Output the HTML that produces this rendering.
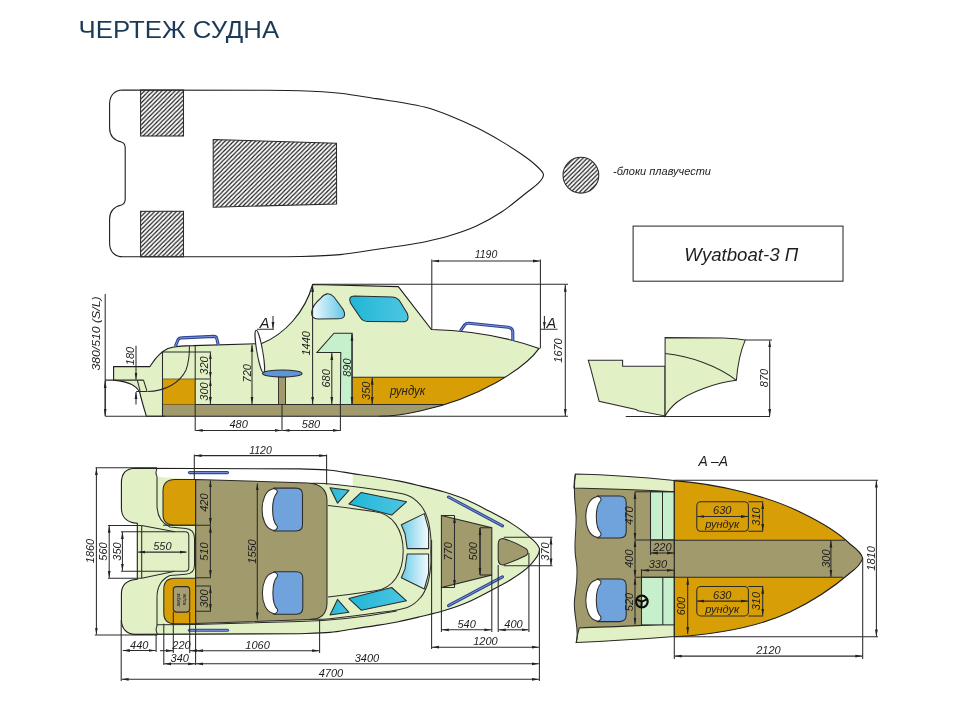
<!DOCTYPE html>
<html><head><meta charset="utf-8"><title>Чертеж судна</title>
<style>
html,body{margin:0;padding:0;background:#fff;}
body{width:968px;height:707px;overflow:hidden;position:relative;font-family:"Liberation Sans",sans-serif;}
svg{position:absolute;left:0;top:0;will-change:transform;}
.l{stroke:#2b2b2b;stroke-width:1.05;}
.n{fill:none;}
.k{stroke:#2a2a2a;stroke-width:0.9;}
.o{stroke:#1e1e1e;stroke-width:1.1;}
.t{font-family:"Liberation Sans",sans-serif;font-style:italic;fill:#1e1e1e;}
</style></head>
<body>
<svg width="968" height="707" viewBox="0 0 968 707">
<defs>
 <pattern id="hat" patternUnits="userSpaceOnUse" width="4.36" height="4.36">
  <path d="M-1.2,1.2 L1.2,-1.2 M0,4.36 L4.36,0 M3.16,5.56 L5.56,3.16" stroke="#141414" stroke-width="1.1"/>
 </pattern>
 <marker id="ae" markerWidth="8" markerHeight="4" refX="7" refY="2" orient="auto" markerUnits="userSpaceOnUse">
  <path d="M0,0.6 L7,2 L0,3.4 Z" fill="#222"/>
 </marker>
 <marker id="as" markerWidth="8" markerHeight="4" refX="1" refY="2" orient="auto" markerUnits="userSpaceOnUse">
  <path d="M8,0.6 L1,2 L8,3.4 Z" fill="#222"/>
 </marker>
 <linearGradient id="w1" x1="0" y1="0" x2="1" y2="0">
  <stop offset="0" stop-color="#f4fcff"/><stop offset="1" stop-color="#62c6e6"/>
 </linearGradient>
 <linearGradient id="w2" x1="0" y1="0" x2="1" y2="0">
  <stop offset="0" stop-color="#22b6d6"/><stop offset="1" stop-color="#4cc6e2"/>
 </linearGradient>
 <linearGradient id="w3" x1="0" y1="0" x2="1" y2="0">
  <stop offset="0" stop-color="#6ccbe6"/><stop offset="1" stop-color="#f2fbff"/>
 </linearGradient>
 <clipPath id="sideClip">
  <path id="sideHullP" d="M113.6,366.6 L149.8,366.6 C153,362 158,353 167.9,348.5 C175,346 185,345.6 193.3,345.6 L261.7,343.6 C285,334 305,312 312.6,284.5 L398.3,286.6 L431.4,329.5 Q490,331 539.1,348.4 C525,368 480,398 420,411 Q397,416.3 379,416.3 L146.4,416.3 Q142,402 139.5,391.5 C136,386 131,382 113.6,380.1 Z"/>
 </clipPath>
 <clipPath id="aaClip">
  <path d="M674.3,480.6 C720,484 770,497 800,512 C825,524 840,534 850,544 Q862,553 862.7,558.4 Q860,566 850,573 C835,586 815,600 790,612 C760,626 720,634 674.3,636.8 Z"/>
 </clipPath>
</defs>

<!-- TITLE -->
<text x="78.6" y="37.6" font-family="Liberation Sans" font-size="23.2" fill="#1b3a57" textLength="200.5" lengthAdjust="spacingAndGlyphs">ЧЕРТЕЖ СУДНА</text>

<!-- ===== TOP PLAN ===== -->
<path class="o" fill="none" d="M123,90 L260,90.2 C266.67,90.28 286.67,90.2 300,90.7 C313.33,91.2 327.33,91.88 340,93.2 C352.67,94.52 366,97.1 376,98.6 C386,100.1 391.75,100.75 400,102.2 C408.25,103.65 417,104.97 425.5,107.3 C434,109.63 442.52,112.82 451,116.2 C459.48,119.58 467.92,123.37 476.4,127.6 C484.88,131.83 494.3,137.12 501.9,141.6 C509.5,146.08 516.4,150.6 522,154.5 C527.6,158.4 531.93,161.7 535.5,165 C539.07,168.3 542.83,171.37 543.4,174.3 C543.97,177.23 541.57,179.65 538.9,182.6 C536.23,185.55 533.57,187.13 527.4,192 C521.23,196.87 510.4,206.13 501.9,211.8 C493.4,217.47 484.88,222.08 476.4,226 C467.92,229.92 459.48,232.68 451,235.3 C442.52,237.92 434,239.92 425.5,241.7 C417,243.48 408.25,244.7 400,246 C391.75,247.3 386,248.07 376,249.5 C366,250.93 352.67,253.43 340,254.6 C327.33,255.77 313.33,256.13 300,256.5 C286.67,256.87 266.67,256.75 260,256.8 L123,256.8 C114,256.8 109.6,251 109.6,243 L109.6,219 C109.6,211 115,206.5 121.5,205 C124.5,204 125.2,202 125.2,199 L125.2,148 C125.2,145 124.5,143 121.5,142 C115,140.5 109.6,136 109.6,128 L109.6,104 C109.6,96 114,90 123,90 Z"/>
<rect x="140.6" y="90" width="42.9" height="46" fill="url(#hat)" class="l"/>
<rect x="140.6" y="211.3" width="42.9" height="45.5" fill="url(#hat)" class="l"/>
<path d="M213.2,139.6 L336.5,143.2 L336.6,203.9 L213.2,207.2 Z" fill="url(#hat)" class="l"/>
<circle cx="580.9" cy="175.2" r="17.9" fill="url(#hat)" class="l"/>
<text class="t" x="613" y="174.6" font-size="11" textLength="98" lengthAdjust="spacingAndGlyphs">-блоки плавучести</text>
<rect x="633.1" y="226.1" width="209.9" height="55.1" class="l n"/>
<text class="t" x="684.3" y="260.5" font-size="18.5" textLength="114" lengthAdjust="spacingAndGlyphs">Wyatboat-3 П</text>

<!-- ===== SIDE VIEW ===== -->
<use href="#sideHullP" fill="#e2f0c6"/>
<g clip-path="url(#sideClip)">
 <rect x="352" y="377.3" width="200" height="27.2" fill="#d89e06"/>
 <rect x="162.5" y="404.5" width="400" height="14" fill="#a19a6c"/>
 <line x1="352" y1="377.3" x2="560" y2="377.3" class="l n"/>
 <line x1="162.5" y1="404.5" x2="560" y2="404.5" class="l n"/>
</g>
<!-- aft locker -->
<rect x="162.5" y="379" width="32.7" height="25.5" fill="#d89e06"/>
<line x1="162.5" y1="379" x2="195.2" y2="379" stroke="#7a6a30" stroke-width="1.2"/>
<use href="#sideHullP" class="o" fill="none"/>
<!-- lines stern -->
<path class="l n" d="M162.5,351.9 L162.5,416.3 M162.5,351.9 L211.2,351.9 M195.2,379 L211.2,379 M195.2,345.7 L195.2,431"/>
<path class="l n" d="M113.6,380.1 L143.5,380.1 M137.3,380.1 L140.1,390.9 M143.5,380.1 L146.9,390.9 M136.2,391.5 L147,391.5"/>
<path class="l n" d="M147.4,391.6 C165,391 180,383 186,370 C189,362 189.5,352 189.4,346"/>
<!-- console -->
<path d="M317,352.4 L334,333.2 L352.1,333.2 L352.1,404.5 L340.4,404.5 L340.8,352.4 Z" fill="#c5f0cb" class="l"/>
<!-- windows -->
<path d="M320.5,298.5 Q327,290 334,297 L343.2,309.5 Q347.5,318.6 338.5,318.8 L318,318.9 Q311,318.9 311.6,312 Q312.5,305 320.5,298.5 Z" fill="url(#w1)" class="l"/>
<path d="M354.5,295.9 L392.5,297 Q397.5,297.4 400,301.5 L407.2,313.2 Q410.2,321.8 402.5,321.8 L367.5,321.4 Q362.5,321.3 360.3,317.5 L350.6,303.2 Q347.6,295.9 354.5,295.9 Z" fill="url(#w2)" class="l"/>
<!-- seat -->
<rect x="278.5" y="375.5" width="7" height="29" fill="#a19a6c" class="k"/>
<ellipse cx="259.8" cy="351.5" rx="2.9" ry="21.5" transform="rotate(-10 259.8 351.5)" fill="#fff" class="l"/>
<ellipse cx="282.3" cy="373.5" rx="19.8" ry="3.6" fill="#5e95d8" class="l"/>
<!-- handrails -->
<path d="M175.4,346.4 L177.8,340.2 Q179,337.9 181.5,337.9 L213.8,336.4 Q216.5,336.5 216.9,339 L218.2,344.9" fill="none" stroke="#2d4592" stroke-width="3.1" stroke-linejoin="round"/>
<path d="M175.4,346.4 L177.8,340.2 Q179,337.9 181.5,337.9 L213.8,336.4 Q216.5,336.5 216.9,339 L218.2,344.9" fill="none" stroke="#7d96dc" stroke-width="1" stroke-linejoin="round"/>
<path d="M460.3,331.1 L464.5,325 Q466,323.2 469,323.3 L508,327.2 Q512.8,328 512.8,332 L512.8,340.6" fill="none" stroke="#2d4592" stroke-width="3.1" stroke-linejoin="round"/>
<path d="M460.3,331.1 L464.5,325 Q466,323.2 469,323.3 L508,327.2 Q512.8,328 512.8,332 L512.8,340.6" fill="none" stroke="#7d96dc" stroke-width="1" stroke-linejoin="round"/>
<!-- dimension lines side -->
<path class="l n" d="M105.2,293.9 L105.2,416.3 M105.2,416.3 L165,416.3 M105.2,380.1 L114,380.1"/>
<line class="l n" x1="105.2" y1="381" x2="105.2" y2="415.5" marker-start="url(#as)" marker-end="url(#ae)"/>
<line class="l n" x1="136" y1="345.7" x2="136" y2="379.6" marker-end="url(#ae)"/>
<line class="l n" x1="136" y1="404.5" x2="136" y2="392" marker-end="url(#ae)"/>
<line class="l n" x1="210.4" y1="352.4" x2="210.4" y2="378.6" marker-start="url(#as)" marker-end="url(#ae)"/>
<line class="l n" x1="210.4" y1="379.4" x2="210.4" y2="404" marker-start="url(#as)" marker-end="url(#ae)"/>
<line class="l n" x1="252" y1="344.8" x2="252" y2="404" marker-start="url(#as)" marker-end="url(#ae)"/>
<line class="l n" x1="312.6" y1="285" x2="312.6" y2="404" marker-start="url(#as)" marker-end="url(#ae)"/>
<line class="l n" x1="331.8" y1="352.9" x2="331.8" y2="404" marker-start="url(#as)" marker-end="url(#ae)"/>
<line class="l n" x1="352" y1="333.7" x2="352" y2="404" marker-start="url(#as)" marker-end="url(#ae)"/>
<line class="l n" x1="372.2" y1="377.8" x2="372.2" y2="404" marker-start="url(#as)" marker-end="url(#ae)"/>
<path class="l n" d="M282,404.5 L282,431 M340.4,404.5 L340.4,431"/>
<line class="l n" x1="195.7" y1="430.4" x2="281.5" y2="430.4" marker-start="url(#as)" marker-end="url(#ae)"/>
<line class="l n" x1="282.5" y1="430.4" x2="339.9" y2="430.4" marker-start="url(#as)" marker-end="url(#ae)"/>
<path class="l n" d="M312.6,284.3 L568,284.3 M431.8,259.4 L431.8,329.5 M540.4,259.4 L540.4,348.4 M379,416.3 L568,416.3"/>
<line class="l n" x1="432.3" y1="261" x2="539.9" y2="261" marker-start="url(#as)" marker-end="url(#ae)"/>
<line class="l n" x1="565.3" y1="284.8" x2="565.3" y2="416" marker-start="url(#as)" marker-end="url(#ae)"/>
<!-- section marks A -->
<path class="l n" d="M257.1,329.3 L274.1,329.3 M540.4,329.3 L557.5,329.3"/>
<line class="l n" x1="273" y1="316" x2="273" y2="328.8" marker-end="url(#ae)"/>
<line class="l n" x1="544.4" y1="316" x2="544.4" y2="328.8" marker-end="url(#ae)"/>
<text class="t" x="259.8" y="328.4" font-size="14.5">A</text>
<text class="t" x="546.6" y="328.4" font-size="14.5">A</text>
<!-- side texts -->
<text class="t" x="486" y="258" text-anchor="middle" font-size="10.5">1190</text>
<text class="t" transform="translate(562.4,350.5) rotate(-90)" text-anchor="middle" font-size="11">1670</text>
<text class="t" transform="translate(100,333.5) rotate(-90)" text-anchor="middle" font-size="11.5" textLength="74" lengthAdjust="spacingAndGlyphs">380/510 (S/L)</text>
<text class="t" transform="translate(133.5,356) rotate(-90)" text-anchor="middle" font-size="11">180</text>
<text class="t" transform="translate(208,365.5) rotate(-90)" text-anchor="middle" font-size="11">320</text>
<text class="t" transform="translate(208,391.5) rotate(-90)" text-anchor="middle" font-size="11">300</text>
<text class="t" transform="translate(250.5,373.3) rotate(-90)" text-anchor="middle" font-size="11">720</text>
<text class="t" transform="translate(309.8,343.3) rotate(-90)" text-anchor="middle" font-size="11">1440</text>
<text class="t" transform="translate(329.5,378.4) rotate(-90)" text-anchor="middle" font-size="11">680</text>
<text class="t" transform="translate(350.5,367.6) rotate(-90)" text-anchor="middle" font-size="11">890</text>
<text class="t" transform="translate(370.3,390.8) rotate(-90)" text-anchor="middle" font-size="11">350</text>
<text class="t" x="389.9" y="395.3" font-size="12" textLength="35.3" lengthAdjust="spacingAndGlyphs">рундук</text>
<text class="t" x="238.6" y="428.2" text-anchor="middle" font-size="11">480</text>
<text class="t" x="311" y="428.2" text-anchor="middle" font-size="11">580</text>

<!-- ===== SECTION (right of side view) ===== -->
<path d="M588.3,360.3 L622.6,360.3 L622.6,366.3 L665,366.3 L665,415.9 L637.9,410.8 L636,409.5 L599.1,401.2 C596,390 592,372 588.3,360.3 Z" fill="#e2f0c6" class="l"/>
<path d="M665.1,337.6 L723.6,337.9 Q738,338.6 745.3,339.9 C741,350 737.5,365 736.4,380.3 C715,383 690,392 676.5,402.5 Q669,409 665.1,415.9 Z" fill="#e2f0c6" class="l"/>
<path class="l n" d="M665.1,353.5 C690,356 718,366 736.4,380.3"/>
<path class="l n" d="M625.8,416.4 L770,416.4 M745.3,339.9 L772,339.9"/>
<line class="l n" x1="769.7" y1="340.4" x2="769.7" y2="415.9" marker-start="url(#as)" marker-end="url(#ae)"/>
<text class="t" transform="translate(768,378) rotate(-90)" text-anchor="middle" font-size="11">870</text>


<!-- BOTTOM PLAN -->
<defs><path id="hull2" d="M135.4,468.2 L300,468.9 C305,469.12 321.22,469.42 330,470.2 C338.78,470.98 345.12,472.47 352.7,473.6 C360.28,474.73 367.92,475.78 375.5,477 C383.08,478.22 390.63,479.38 398.2,480.9 C405.77,482.42 413.33,484.28 420.9,486.1 C428.47,487.92 436.02,489.52 443.6,491.8 C451.18,494.08 458.82,496.58 466.4,499.8 C473.98,503.02 481.53,507.13 489.1,511.1 C496.67,515.07 504.98,519.23 511.8,523.6 C518.62,527.97 525.38,532.93 530,537.3 C534.62,541.67 539.5,545.13 539.5,549.8 C539.5,554.47 534.62,560.43 530,565.3 C525.38,570.17 518.62,574.63 511.8,579 C504.98,583.37 496.67,587.53 489.1,591.5 C481.53,595.47 473.98,599.58 466.4,602.8 C458.82,606.02 451.18,608.52 443.6,610.8 C436.02,613.08 428.47,614.68 420.9,616.5 C413.33,618.32 405.77,620.18 398.2,621.7 C390.63,623.22 383.08,624.38 375.5,625.6 C367.92,626.82 360.28,627.87 352.7,629 C345.12,630.13 338.78,631.62 330,632.4 C321.22,633.18 305,633.48 300,633.7 L135.4,634.4 C126,634.4 121.4,628 121.4,619.6 L121.4,594 C121.4,585 127,580 137.3,579.3 L137.3,523.3 C127,522.6 121.4,517 121.4,508.3 L121.4,483 C121.4,474 126,468.2 135.4,468.2 Z"/></defs><use href="#hull2" fill="#e2f0c6"/>
<path d="M157,476.6 Q154.8,472 157,468.3 L300,468.9 C320,469.5 335,471 352.7,473.6 L352.7,486.3 C335,484.2 320,483.5 300,482.8 L195.6,479.2 L162,477.2 Z" fill="#fff"/>
<path d="M195.6,479.4 L175,479.4 Q163,479.4 163,491 L163,514 Q163,525.3 175,525.3 L195.6,525.3 Z" fill="#d89e06" class="l"/>
<path d="M195.6,578.2 L175,578.2 Q163.8,578.2 163.8,589 L163.8,613 Q163.8,623.8 175,623.8 L195.6,623.8 Z" fill="#d89e06" class="l"/>
<path d="M195.6,479.4 L308,483 Q326.5,484 327,500 L327,603.6 Q326.5,619 311,619.5 L195.6,623.5 Z" fill="#a19a6c" class="l"/>
<rect x="173.3" y="586.6" width="16.4" height="25.5" rx="3" fill="#a89e74" class="l"/>
<text class="t" transform="translate(180,599.4) rotate(-90) scale(0.5)" text-anchor="middle" font-size="9.5" font-style="normal">аккум.</text>
<text class="t" transform="translate(186.3,599.4) rotate(-90) scale(0.5)" text-anchor="middle" font-size="9.5" font-style="normal">ящик</text>
<path class="l n" d="M157,476.6 L157,505 C157,515 161,523 170,527 L186,528.5 Q194.5,529.5 194.5,538 L194.5,565 Q194.5,573.5 186,574.2 L170,575.6 C161,579.5 157,587.5 157,597.5 L157,626"/>
<path class="l n" d="M157,476.6 Q155,472.5 157,468.4"/>
<path class="l n" d="M141.7,525.4 L141.7,578.2 M141.7,525.4 L174.8,531.7 M141.7,578.2 L174.8,571.2"/>
<path class="l n" d="M141.7,531.7 L185,531.7 Q188.8,531.7 188.8,535.5 L188.8,567.4 Q188.8,571.2 185,571.2 L141.7,571.2"/>
<path class="l n" d="M157,626 Q155,630 157.5,634.3 M157,624.8 L195.6,624.4 L300,621.6 C330,620.6 360,618 396.8,611"/>
<path class="l n" d="M310,483.4 C313.33,483.48 319.08,482.88 330,483.9 C340.92,484.92 362.62,487.62 375.5,489.5 C388.38,491.38 399.73,492.53 407.3,495.2 C414.87,497.87 417.5,501.52 420.9,505.5 C424.3,509.48 426.05,513.8 427.7,519.1 C429.35,524.4 430.28,531.93 430.8,537.3 C431.32,542.67 430.8,548.97 430.8,551.3 C430.8,553.63 431.32,559.93 430.8,565.3 C430.28,570.67 429.35,578.2 427.7,583.5 C426.05,588.8 424.3,593.12 420.9,597.1 C417.5,601.08 414.87,604.73 407.3,607.4 C399.73,610.07 388.38,611.22 375.5,613.1 C362.62,614.98 340.92,617.68 330,618.7 C319.08,619.72 313.33,619.12 310,619.2"/>
<path class="l n" d="M328,505.6 C345,507.5 360,509.5 375.2,511.8 C393,514 403.2,530 403.2,551.3 C403.2,572.6 393,588.6 375.2,590.8 C360,593.1 345,595.1 328,597"/>
<path d="M330,487.7 L348.9,490.3 L337.5,503.2 Z" fill="url(#w2)" class="l" stroke-linejoin="round"/>
<path d="M330,614.9 L348.9,612.3 L337.5,599.4 Z" fill="url(#w2)" class="l" stroke-linejoin="round"/>
<path d="M361.2,492.4 L406.5,501.8 L391.7,515.1 L348.9,504 Z" fill="url(#w2)" class="l" stroke-linejoin="round"/>
<path d="M361.2,610.2 L406.5,600.8 L391.7,587.5 L348.9,598.6 Z" fill="url(#w2)" class="l" stroke-linejoin="round"/>
<path d="M401.3,524.8 L424.3,513.6 L428.6,529.2 L428.6,548.6 L407.2,548.6 L405,533.7 Z" fill="url(#w3)" class="l" stroke-linejoin="round"/>
<path d="M401.3,577.8 L424.3,589 L428.6,573.4 L428.6,554 L407.2,554 L405,568.9 Z" fill="url(#w3)" class="l" stroke-linejoin="round"/>
<path d="M273.7,488.1 L296,488.1 Q302.5,488.1 302.5,494.6 L302.5,524.4 Q302.5,530.9 296,530.9 L273.7,530.9 C269.7,520.9 269.7,498.1 273.7,488.1 Z" fill="#70a3dc" class="l"/><path d="M272.2,489.1 C258.7,492.6 258.7,526.4 272.2,529.9 C274.7,531.4 278.2,528.9 277.1,526 C271.1,519.9 271.1,499.1 277.1,492.7 C278.2,490.1 274.7,487.6 272.2,489.1 Z" fill="#fff" class="l"/>
<path d="M274,571.8 L296.3,571.8 Q302.8,571.8 302.8,578.3 L302.8,607.7 Q302.8,614.2 296.3,614.2 L274,614.2 C270,604.2 270,581.8 274,571.8 Z" fill="#70a3dc" class="l"/><path d="M272.5,572.8 C259,576.3 259,609.7 272.5,613.2 C275,614.7 278.5,612.2 277.4,609.3 C271.4,603.2 271.4,582.8 277.4,576.4 C278.5,573.8 275,571.3 272.5,572.8 Z" fill="#fff" class="l"/>
<path d="M441.4,515.5 L491.8,527.7 L491.8,575 L441.4,587.5 Z" fill="#a19a6c" class="l"/>
<path class="l n" d="M454.5,515.5 L454.5,587.5 M480,527.7 L480,575 M441.4,515.5 L454.5,515.5 M441.4,587.5 L454.5,587.5 M480,527.7 L491.8,527.7 M480,575 L491.8,575"/>
<line class="l" x1="454.5" y1="515.9" x2="454.5" y2="587.1" marker-start="url(#as)" marker-end="url(#ae)"/>
<line class="l" x1="480" y1="528.1" x2="480" y2="574.6" marker-start="url(#as)" marker-end="url(#ae)"/>
<text class="t" transform="translate(451.5,551.3) rotate(-90)" text-anchor="middle" font-size="11">770</text>
<text class="t" transform="translate(477,551.3) rotate(-90)" text-anchor="middle" font-size="11">500</text>
<path d="M503,538.4 Q498.2,538.4 498.2,544 L498.2,559 Q498.2,565 503,565 Q515,561 526,555.5 Q530,552.5 526,548.6 Q515,542 503,538.4 Z" fill="#a19a6c" class="l"/>
<line x1="189.5" y1="472.6" x2="227.5" y2="472.6" stroke="#2d4592" stroke-width="3.1" stroke-linecap="round"/><line x1="189.5" y1="472.6" x2="227.5" y2="472.6" stroke="#7d96dc" stroke-width="1" stroke-linecap="round"/>
<line x1="189.5" y1="630.3" x2="227.5" y2="630.3" stroke="#2d4592" stroke-width="3.1" stroke-linecap="round"/><line x1="189.5" y1="630.3" x2="227.5" y2="630.3" stroke="#7d96dc" stroke-width="1" stroke-linecap="round"/>
<line x1="448.5" y1="497" x2="502.5" y2="525.8" stroke="#2d4592" stroke-width="3.1" stroke-linecap="round"/><line x1="448.5" y1="497" x2="502.5" y2="525.8" stroke="#7d96dc" stroke-width="1" stroke-linecap="round"/>
<line x1="448.5" y1="605.6" x2="502.5" y2="576.8" stroke="#2d4592" stroke-width="3.1" stroke-linecap="round"/><line x1="448.5" y1="605.6" x2="502.5" y2="576.8" stroke="#7d96dc" stroke-width="1" stroke-linecap="round"/>
<use href="#hull2" fill="none" class="o"/>
<path class="l n" d="M194.3,454.6 L194.3,479.8 M326.6,454.6 L326.6,484.4 M95.5,467.7 L157,467.7 M94.8,634.9 L157.3,634.9 M108,525.4 L141.7,525.4 M108,578.2 L141.7,578.2 M121,531.7 L141.7,531.7 M121,571.2 L141.7,571.2 M195.6,479.4 L195.6,665 M121.2,620 L121.2,681 M156.1,634.9 L156.1,652 M163.8,623.8 L163.8,665 M173.3,612 L173.3,653 M189.7,612 L189.7,653 M319.6,619.5 L319.6,653 M431.6,540 L431.6,649 M441.4,587.4 L441.4,632 M491.8,575 L491.8,632 M498.2,565 L498.2,632 M528.9,553 L528.9,632 M539.4,550 L539.4,681 M503.8,537.2 L552.5,537.2 M503.8,565.8 L552.5,565.8 M163,525.3 L211,525.3 M195.6,586 L211,586 M195.6,611.3 L211,611.3 M195.6,577.7 L211,577.7"/>
<line class="l" x1="194.7" y1="455.6" x2="326.2" y2="455.6" marker-start="url(#as)" marker-end="url(#ae)"/><text class="t" x="260.45" y="453.5" text-anchor="middle" font-size="10.5">1120</text>
<line class="l" x1="96.4" y1="468.1" x2="96.4" y2="634.5" marker-start="url(#as)" marker-end="url(#ae)"/><text class="t" transform="translate(94,551) rotate(-90)" text-anchor="middle" font-size="11">1860</text>
<line class="l" x1="109.2" y1="525.8" x2="109.2" y2="577.8" marker-start="url(#as)" marker-end="url(#ae)"/><text class="t" transform="translate(107,551.5) rotate(-90)" text-anchor="middle" font-size="11">560</text>
<line class="l" x1="122.4" y1="532.1" x2="122.4" y2="570.8" marker-start="url(#as)" marker-end="url(#ae)"/><text class="t" transform="translate(120.5,551.5) rotate(-90)" text-anchor="middle" font-size="11">350</text>
<line class="l" x1="138.3" y1="552.1" x2="186.5" y2="552.1" marker-start="url(#as)" marker-end="url(#ae)"/><text class="t" x="162.4" y="549.6" text-anchor="middle" font-size="11">550</text>
<line class="l" x1="210.4" y1="480.4" x2="210.4" y2="524.9" marker-start="url(#as)" marker-end="url(#ae)"/><text class="t" transform="translate(208.3,502.6) rotate(-90)" text-anchor="middle" font-size="11">420</text>
<line class="l" x1="210.4" y1="525.7" x2="210.4" y2="577.3" marker-start="url(#as)" marker-end="url(#ae)"/><text class="t" transform="translate(208.3,551.5) rotate(-90)" text-anchor="middle" font-size="11">510</text>
<line class="l" x1="210.4" y1="586.4" x2="210.4" y2="610.9" marker-start="url(#as)" marker-end="url(#ae)"/><text class="t" transform="translate(208.3,598.6) rotate(-90)" text-anchor="middle" font-size="11">300</text>
<line class="l" x1="257.3" y1="483.4" x2="257.3" y2="619.4" marker-start="url(#as)" marker-end="url(#ae)"/><text class="t" transform="translate(256.4,551.5) rotate(-90)" text-anchor="middle" font-size="11">1550</text>
<line class="l" x1="551" y1="537.6" x2="551" y2="565.4" marker-start="url(#as)" marker-end="url(#ae)"/><text class="t" transform="translate(549.2,551.5) rotate(-90)" text-anchor="middle" font-size="11">370</text>
<line class="l" x1="122.8" y1="650.5" x2="155.7" y2="650.5" marker-start="url(#as)" marker-end="url(#ae)"/><text class="t" x="139.25" y="648.5" text-anchor="middle" font-size="11">440</text>
<line class="l" x1="196" y1="650.7" x2="319.2" y2="650.7" marker-start="url(#as)" marker-end="url(#ae)"/><text class="t" x="257.6" y="648.7" text-anchor="middle" font-size="11">1060</text>
<line class="l" x1="160" y1="650.7" x2="173" y2="650.7" marker-end="url(#ae)"/><line class="l" x1="203" y1="650.7" x2="190" y2="650.7" marker-end="url(#ae)"/>
<text class="t" x="181.5" y="648.7" text-anchor="middle" font-size="11">220</text>
<line class="l" x1="164.2" y1="663.8" x2="195.2" y2="663.8" marker-start="url(#as)" marker-end="url(#ae)"/><text class="t" x="179.7" y="661.6" text-anchor="middle" font-size="11">340</text>
<line class="l" x1="196" y1="663.8" x2="538.9" y2="663.8" marker-start="url(#as)" marker-end="url(#ae)"/>
<text class="t" x="367" y="661.6" text-anchor="middle" font-size="11">3400</text>
<line class="l" x1="121.6" y1="679.3" x2="538.9" y2="679.3" marker-start="url(#as)" marker-end="url(#ae)"/>
<text class="t" x="331" y="677" text-anchor="middle" font-size="11">4700</text>
<line class="l" x1="441.8" y1="629.8" x2="491.4" y2="629.8" marker-start="url(#as)" marker-end="url(#ae)"/><text class="t" x="466.6" y="627.6" text-anchor="middle" font-size="11">540</text>
<line class="l" x1="498.6" y1="629.8" x2="528.5" y2="629.8" marker-start="url(#as)" marker-end="url(#ae)"/><text class="t" x="513.55" y="627.6" text-anchor="middle" font-size="11">400</text>
<line class="l" x1="432" y1="647.2" x2="538.9" y2="647.2" marker-start="url(#as)" marker-end="url(#ae)"/><text class="t" x="485.45" y="645" text-anchor="middle" font-size="11">1200</text>
<!-- A-A -->
<text class="t" x="698.4" y="465.9" font-size="14" textLength="29.6" lengthAdjust="spacingAndGlyphs">A –A</text>
<path d="M575.4,474.1 C610,475 650,478 674.3,480.4 L674.3,636.4 C640,639 610,641 576.2,642.6 C580,630 573,615 574.5,600 C576,585 579,575 576,560 C573,545 578,530 576,515 C575,500 573,490 575.4,474.1 Z" fill="#a19a6c"/>
<path d="M575.4,474.1 C610,475 650,478 674.3,480.4 L674.3,491.7 C640,490 610,489 573.9,488.1 C574,483 574.5,478 575.4,474.1 Z" fill="#e2f0c6" class="l"/>
<path d="M579.3,627.9 C610,627 650,625 674.3,624 L674.3,636.4 C640,639 610,641 576.2,642.6 C577,637 578,632 579.3,627.9 Z" fill="#e2f0c6" class="l"/>
<path class="l n" d="M575.4,474.1 C573,490 575,500 576,515 C577,530 573,545 576,560 C579,575 576,585 574.5,600 C573,615 580,630 576.2,642.6"/>
<rect x="650.5" y="491.7" width="23.8" height="48.2" fill="#c5f0cb" class="l"/>
<line class="l" x1="662.5" y1="491.7" x2="662.5" y2="539.9"/>
<rect x="641.5" y="577.3" width="32.8" height="47.6" fill="#c5f0cb" class="l"/>
<line class="l" x1="662.8" y1="577.3" x2="662.8" y2="624.9"/>
<g clip-path="url(#aaClip)"><rect x="674.3" y="478" width="200" height="162" fill="#d89e06"/><rect x="674.3" y="540.2" width="200" height="37.1" fill="#a19a6c"/></g>
<path class="l n" d="M674.3,540.2 L845,540.2 M674.3,577.3 L843,577.3 M635,491.7 L674.3,491.7 M635,539.9 L674.3,539.9 M635,577.3 L674.3,577.3"/>
<path class="o" fill="none" d="M674.3,480.6 C720,484 770,497 800,512 C825,524 840,534 850,544 Q862,553 862.7,558.4 Q860,566 850,573 C835,586 815,600 790,612 C760,626 720,634 674.3,636.8 L674.3,480.6"/>
<path d="M597.4,495.9 L619.7,495.9 Q626.2,495.9 626.2,502.4 L626.2,531.4 Q626.2,537.9 619.7,537.9 L597.4,537.9 C593.4,527.9 593.4,505.9 597.4,495.9 Z" fill="#70a3dc" class="l"/><path d="M595.9,496.9 C582.4,500.4 582.4,533.4 595.9,536.9 C598.4,538.4 601.9,535.9 600.8,533 C594.8,526.9 594.8,506.9 600.8,500.5 C601.9,497.9 598.4,495.4 595.9,496.9 Z" fill="#fff" class="l"/>
<path d="M597.4,578.9 L619.7,578.9 Q626.2,578.9 626.2,585.4 L626.2,615.1 Q626.2,621.6 619.7,621.6 L597.4,621.6 C593.4,611.6 593.4,588.9 597.4,578.9 Z" fill="#70a3dc" class="l"/><path d="M595.9,579.9 C582.4,583.4 582.4,617.1 595.9,620.6 C598.4,622.1 601.9,619.6 600.8,616.7 C594.8,610.6 594.8,589.9 600.8,583.5 C601.9,580.9 598.4,578.4 595.9,579.9 Z" fill="#fff" class="l"/>
<circle cx="641.8" cy="601.6" r="5.9" fill="none" stroke="#0c0c0c" stroke-width="2.2"/><path d="M641.8,601.6 L641.3,607 M641.8,601.6 L636.6,599.5 M641.8,601.6 L646.9,599.3" stroke="#0c0c0c" stroke-width="2"/>
<rect x="696.8" y="501.8" width="51.6" height="29.5" rx="4" fill="none" class="l"/>
<path class="l n" d="M748.4,501.8 L763.2,501.8 M748.4,531.3 L763.2,531.3"/>
<line class="l" x1="697.2" y1="516.5" x2="748" y2="516.5" marker-start="url(#as)" marker-end="url(#ae)"/>
<text class="t" x="722.3" y="514.1" text-anchor="middle" font-size="11">630</text>
<text class="t" x="722.3" y="528" text-anchor="middle" font-size="11">рундук</text>
<line class="l" x1="762.7" y1="502.2" x2="762.7" y2="530.9" marker-start="url(#as)" marker-end="url(#ae)"/><text class="t" transform="translate(760.3,516.5) rotate(-90)" text-anchor="middle" font-size="11">310</text>
<rect x="696.8" y="586.4" width="51.6" height="29.5" rx="4" fill="none" class="l"/>
<path class="l n" d="M748.4,586.4 L763.2,586.4 M748.4,615.9 L763.2,615.9"/>
<line class="l" x1="697.2" y1="601.1" x2="748" y2="601.1" marker-start="url(#as)" marker-end="url(#ae)"/>
<text class="t" x="722.3" y="598.7" text-anchor="middle" font-size="11">630</text>
<text class="t" x="722.3" y="612.6" text-anchor="middle" font-size="11">рундук</text>
<line class="l" x1="762.7" y1="586.8" x2="762.7" y2="615.5" marker-start="url(#as)" marker-end="url(#ae)"/><text class="t" transform="translate(760.3,601.1) rotate(-90)" text-anchor="middle" font-size="11">310</text>
<path class="l n" d="M674.3,480.2 L878,480.2 M674.3,636.8 L878,636.8 M674.3,636 L674.3,659 M862.7,558.4 L862.7,659 M650.5,539.9 L650.5,555 M674.3,539.9 L674.3,555 M641.5,569 L641.5,577.3 M674.3,569 L674.3,577.3"/>
<line class="l" x1="876.4" y1="480.6" x2="876.4" y2="636.4" marker-start="url(#as)" marker-end="url(#ae)"/><text class="t" transform="translate(875.4,558.4) rotate(-90)" text-anchor="middle" font-size="11">1810</text>
<line class="l" x1="674.7" y1="656.1" x2="862.3" y2="656.1" marker-start="url(#as)" marker-end="url(#ae)"/><text class="t" x="768.5" y="653.9" text-anchor="middle" font-size="11">2120</text>
<line class="l" x1="830.9" y1="540.6" x2="830.9" y2="576.9" marker-start="url(#as)" marker-end="url(#ae)"/><text class="t" transform="translate(829.6,558.6) rotate(-90)" text-anchor="middle" font-size="11">300</text>
<line class="l" x1="687.7" y1="577.7" x2="687.7" y2="634.1" marker-start="url(#as)" marker-end="url(#ae)"/><text class="t" transform="translate(685.3,606) rotate(-90)" text-anchor="middle" font-size="11">600</text>
<line class="l" x1="635" y1="492.1" x2="635" y2="539.5" marker-start="url(#as)" marker-end="url(#ae)"/><text class="t" transform="translate(632.6,515.6) rotate(-90)" text-anchor="middle" font-size="11">470</text>
<line class="l" x1="635" y1="540.3" x2="635" y2="576.9" marker-start="url(#as)" marker-end="url(#ae)"/><text class="t" transform="translate(632.6,558.6) rotate(-90)" text-anchor="middle" font-size="11">400</text>
<line class="l" x1="635" y1="577.7" x2="635" y2="624.6" marker-start="url(#as)" marker-end="url(#ae)"/><text class="t" transform="translate(632.6,602) rotate(-90)" text-anchor="middle" font-size="11">520</text>
<line class="l" x1="650.9" y1="553" x2="673.9" y2="553" marker-start="url(#as)" marker-end="url(#ae)"/><text class="t" x="662.4" y="551" text-anchor="middle" font-size="11">220</text>
<line class="l" x1="641.9" y1="570.3" x2="673.9" y2="570.3" marker-start="url(#as)" marker-end="url(#ae)"/><text class="t" x="657.9" y="568.2" text-anchor="middle" font-size="11">330</text>
</svg>
</body></html>
